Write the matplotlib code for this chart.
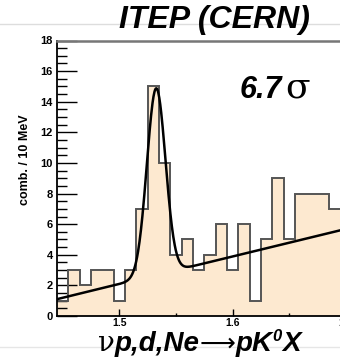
import numpy as np
import matplotlib
matplotlib.use("Agg")
import matplotlib.pyplot as plt
from matplotlib.ticker import MultipleLocator, FixedLocator
from matplotlib.lines import Line2D

# Invariant mass spectrum, 10 MeV bins (bin centres in GeV)
bin_centers = [1.45, 1.46, 1.47, 1.48, 1.49, 1.50, 1.51, 1.52, 1.53, 1.54,
               1.55, 1.56, 1.57, 1.58, 1.59, 1.60, 1.61, 1.62, 1.63, 1.64,
               1.65, 1.66, 1.67, 1.68, 1.69]
counts = [1, 3, 2, 3, 3, 1, 3, 7, 15, 10,
          4, 5, 3, 4, 6, 3, 6, 1, 5, 9,
          5, 8, 8, 8, 7]
bin_width = 0.01

# Fit: gaussian peak on a linear background
peak_mass = 1.5325
peak_sigma = 0.0082
peak_amp = 12.2
bg_at_start = 1.1
bg_slope = 18.0

x_range = (1.445, 1.70)
y_range = (0, 18)

fill_col = "#fde9d0"
edge_col = "#555555"

fig = plt.figure(figsize=(3.4, 3.62), dpi=100)
ax = fig.add_axes([57 / 340, 46 / 362, 289 / 340, 275.5 / 362])

edges = np.append(np.array(bin_centers) - bin_width / 2, bin_centers[-1] + bin_width / 2)
ax.stairs(counts, edges, fill=True, color=fill_col, baseline=0, zorder=1)
ax.stairs(counts, edges, baseline=None, color=edge_col, lw=1.4, zorder=2)

m = np.linspace(x_range[0], x_range[1], 600)
fit = (bg_at_start + bg_slope * (m - x_range[0])
       + peak_amp * np.exp(-0.5 * ((m - peak_mass) / peak_sigma) ** 2))
ax.plot(m, fit, color="black", lw=1.8, zorder=3)

ax.set_xlim(*x_range)
ax.set_ylim(*y_range)

ax.yaxis.set_major_locator(MultipleLocator(2))
ax.yaxis.set_minor_locator(MultipleLocator(0.5))
ax.xaxis.set_major_locator(FixedLocator([1.5, 1.6, 1.7]))
ax.xaxis.set_minor_locator(FixedLocator([1.55, 1.65]))
ax.set_xticklabels(["1.5", "1.6", "1.7"])

ax.tick_params(axis="y", which="major", direction="in", length=14.4, width=1.0,
               pad=3, labelsize=8)
ax.tick_params(axis="y", which="minor", direction="in", length=7.2, width=1.0)
ax.tick_params(axis="x", which="major", direction="in", length=5, width=1.0,
               pad=1.5, labelsize=7.5)
ax.tick_params(axis="x", which="minor", direction="in", length=2.2, width=1.0)
ax.tick_params(right=False, top=False, which="both")
for lab in ax.get_xticklabels() + ax.get_yticklabels():
    lab.set_fontweight("bold")
    lab.set_fontfamily("Liberation Sans")

ax.spines["left"].set_linewidth(1.3)
ax.spines["bottom"].set_linewidth(1.3)
ax.spines["top"].set_color("#777777")
ax.spines["top"].set_linewidth(1.8)
ax.spines["right"].set_visible(False)

# faint slide rules above and below
fig.add_artist(Line2D([0, 1], [1 - 24 / 362] * 2, color="#dddddd", lw=1.0,
                      transform=fig.transFigure))
fig.add_artist(Line2D([0, 1], [1 - 347 / 362] * 2, color="#e6e6e6", lw=1.0,
                      transform=fig.transFigure))

fig.text(25 / 340, 1 - 160 / 362, "comb. / 10 MeV", rotation=90,
         ha="center", va="center", fontsize=9, fontweight="bold",
         family="Liberation Sans")

fig.text(214 / 340, 1 - 20 / 362, "ITEP (CERN)", ha="center", va="center",
         fontsize=23, fontweight="bold", style="italic", family="Liberation Sans")


def chain(x0, y0, parts):
    """Draw text pieces one after another on a common baseline."""
    renderer = fig.canvas.get_renderer()
    x = x0
    for s, dy, kw in parts:
        t = fig.text(x, y0 + dy, s, va="baseline", ha="left", **kw)
        bb = t.get_window_extent(renderer)
        x = bb.x1 / fig.bbox.width


bi = dict(fontweight="bold", style="italic", family="Liberation Sans")

chain(240 / 340, 1 - 98 / 362, [
    ("6.7", 0, dict(fontsize=22, **bi)),
    (" ", 0, dict(fontsize=8, family="Liberation Sans")),
    ("σ", 0, dict(fontsize=26, family="DejaVu Serif")),
])

chain(98 / 340, 1 - 351 / 362, [
    ("ν", 0, dict(fontsize=20, family="DejaVu Serif")),
    ("p,d,Ne", 0, dict(fontsize=20, **bi)),
    ("⟶", 0.0, dict(fontsize=18, family="DejaVu Sans")),
    ("pK", 0, dict(fontsize=20, **bi)),
    ("0", 0.027, dict(fontsize=12, **bi)),
    ("X", 0, dict(fontsize=20, **bi)),
])

fig.savefig("out.png", dpi=100)
